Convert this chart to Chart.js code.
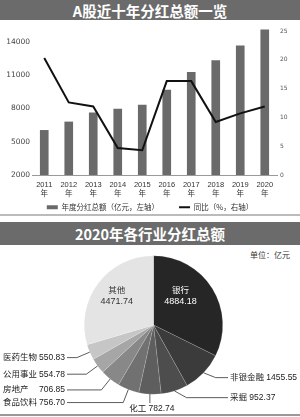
<!DOCTYPE html>
<html>
<head>
<meta charset="utf-8">
<script src="https://cdn.jsdelivr.net/npm/chart.js@4.4.1/dist/chart.umd.min.js"></script>
<style>
  body { margin: 0; width: 300px; height: 417px; position: relative; background: #fff; overflow: hidden;
         font-family: "Noto Sans CJK SC", sans-serif; }
  .hd { position: absolute; left: 0; width: 300px; background: #6b6b6b; color: #fff; font-weight: bold;
        text-align: center; font-size: 14.5px; }
  #h1 { top: 0; height: 20px; line-height: 22px; }
  #h2 { top: 222px; height: 23px; line-height: 23px; }
  .rule { position: absolute; left: 0; width: 300px; }
  #unit { position: absolute; top: 249px; left: 250px; font-size: 8px; line-height: 12px; color: #333; }
  canvas { position: absolute; left: 0; }
  #c1 { top: 21px; }
  #c2 { top: 245px; }
</style>
</head>
<body>
<div class="hd" id="h1">A股近十年分红总额一览</div>
<div class="rule" style="top:214px;height:1.5px;background:#bbb"></div>
<div class="hd" id="h2">2020年各行业分红总额</div>
<div id="unit">单位：亿元</div>
<div class="rule" style="top:414px;height:2px;background:#999"></div>
<canvas id="c1" width="300" height="200"></canvas>
<canvas id="c2" width="300" height="172"></canvas>
<script>
// 数据
const years = ['2011', '2012', '2013', '2014', '2015', '2016', '2017', '2018', '2019', '2020'];
const dividendTotal = [6030, 6790, 7620, 7960, 8320, 9670, 11270, 12320, 13650, 15100];
const yoyGrowth = [20.3, 12.6, 11.9, 4.7, 4.3, 16.3, 16.3, 9.2, 10.7, 11.9];
const leftTicks = [2000, 5000, 8000, 11000, 14000];
const rightTicks = [0, 5, 10, 15, 20, 25];

const industries = ['银行', '非银金融', '采掘', '化工', '食品饮料', '房地产', '公用事业', '医药生物', '其他'];
const industryDividends = [4884.18, 1455.55, 952.37, 782.74, 756.70, 706.85, 554.78, 550.83, 4471.74];
const sliceColors = ['#262626', '#3b3b3b', '#4d4d4d', '#5e5e5e', '#717171', '#888888', '#a6a6a6', '#c6c6c6', '#e4e4e4'];

const NUM_FONT = '"Liberation Sans", "Noto Sans CJK SC", sans-serif';
const CJK_FONT = '"Noto Sans CJK SC", sans-serif';

// x轴标签：年份 + "年" 两行
const yearLabels = {
  id: 'yearLabels',
  afterDraw(chart) {
    const ctx = chart.ctx;
    const xs = chart.scales.x;
    ctx.save();
    ctx.fillStyle = '#333';
    ctx.textAlign = 'center';
    ctx.textBaseline = 'middle';
    years.forEach((y, i) => {
      const px = xs.getPixelForTick(i);
      ctx.font = '7.5px ' + NUM_FONT;
      ctx.fillText(y, px, xs.top + 9.5);
      ctx.font = '7.5px ' + CJK_FONT;
      ctx.fillText('年', px, xs.top + 18.5);
    });
    ctx.restore();
  }
};

// === 图1：柱状 + 折线 ===
new Chart(document.getElementById('c1'), {
  type: 'bar',
  data: {
    labels: years,
    datasets: [
      {
        type: 'bar',
        label: '年度分红总额（亿元，左轴）',
        data: dividendTotal,
        backgroundColor: '#6a6a6a',
        borderWidth: 0,
        barThickness: 8,
        yAxisID: 'y',
        order: 1,
        pointStyle: 'rect',
        // 2020年柱略高于轴顶，只放开上边界
        clip: { left: 0, right: 0, bottom: 0, top: false }
      },
      {
        type: 'line',
        label: '同比（%，右轴）',
        data: yoyGrowth,
        borderColor: '#111',
        backgroundColor: '#111',
        borderWidth: 2,
        pointRadius: 0,
        tension: 0,
        yAxisID: 'y1',
        order: 0,
        pointStyle: 'line'
      }
    ]
  },
  options: {
    responsive: false,
    animation: false,
    devicePixelRatio: 1,
    layout: { padding: { top: 10, left: 0, right: 0, bottom: 0 } },
    plugins: {
      tooltip: { enabled: false },
      legend: {
        position: 'bottom',
        labels: {
          usePointStyle: true,
          pointStyleWidth: 11,
          boxHeight: 4,
          padding: 20,
          color: '#333',
          font: { size: 7.5, family: CJK_FONT },
          sort: (a, b) => a.datasetIndex - b.datasetIndex
        }
      }
    },
    scales: {
      x: {
        grid: { display: false, drawTicks: false },
        border: { display: true, color: '#999', width: 1 },
        ticks: { display: false },
        afterFit: s => { s.height = 8.5; }
      },
      y: {
        position: 'left',
        min: 2000,
        max: 15000,
        grid: { display: false, drawTicks: false },
        border: { display: false },
        ticks: { color: '#444', padding: 2, font: { size: 7.5, family: '"DejaVu Sans", sans-serif' },
                 callback: v => String(v) },
        afterBuildTicks: s => { s.ticks = leftTicks.map(v => ({ value: v })); },
        afterFit: s => { s.width = 32; }
      },
      y1: {
        position: 'right',
        min: 0,
        max: 25,
        grid: { display: false, drawTicks: false },
        border: { display: false },
        ticks: { color: '#555', padding: 3, font: { size: 6, family: '"DejaVu Sans", sans-serif' },
                 callback: v => String(v) },
        afterBuildTicks: s => { s.ticks = rightTicks.map(v => ({ value: v })); },
        afterFit: s => { s.width = 23; }
      }
    }
  },
  plugins: [yearLabels]
});

// === 图2：饼图标签（引线） ===
const pieLabels = {
  id: 'pieLabels',
  afterDraw(chart) {
    const ctx = chart.ctx;
    const meta = chart.getDatasetMeta(0);
    const insideOffset = { '银行': [0.39, -0.42], '其他': [-0.53, -0.42] };
    ctx.save();
    meta.data.forEach((arc, i) => {
      const name = industries[i];
      const val = industryDividends[i].toFixed(2);
      const { x, y, startAngle, endAngle, outerRadius: r } = arc.getProps(['x', 'y', 'startAngle', 'endAngle', 'outerRadius'], true);
      const mid = (startAngle + endAngle) / 2;
      ctx.textBaseline = 'middle';

      if (insideOffset[name]) {
        const [fx, fy] = insideOffset[name];
        const lx = x + fx * r, ly = y + fy * r;
        ctx.fillStyle = name === '银行' ? '#fff' : '#333';
        ctx.textAlign = 'center';
        ctx.font = '8.5px ' + CJK_FONT;
        ctx.fillText(name, lx, ly - 6);
        ctx.font = '9px ' + NUM_FONT;
        ctx.fillText(val, lx, ly + 5.5);
        return;
      }

      const ax = x + Math.cos(mid) * r, ay = y + Math.sin(mid) * r;
      ctx.strokeStyle = '#333';
      ctx.lineWidth = 0.8;
      ctx.fillStyle = '#222';
      ctx.font = '8.5px ' + NUM_FONT;

      if (Math.abs(Math.cos(mid)) < 0.15) {
        // 底部：竖线
        ctx.beginPath();
        ctx.moveTo(ax, ay);
        ctx.lineTo(ax, ay + 9);
        ctx.stroke();
        ctx.textAlign = 'center';
        ctx.fillText(name + ' ' + val, ax + 2, ay + 15);
        return;
      }

      ctx.beginPath();
      ctx.moveTo(ax, ay);
      if (Math.cos(mid) < 0) {
        const ex = x + Math.cos(mid) * (r + 14), ey = y + Math.sin(mid) * (r + 14);
        ctx.lineTo(ex, ey);
        ctx.lineTo(67, ey);
        ctx.stroke();
        ctx.textAlign = 'left';
        ctx.fillText(name, 3, ey);
        ctx.textAlign = 'right';
        ctx.fillText(val, 65, ey);
      } else {
        const ex = ax + 12, ey = ay + Math.sin(mid) * 7;
        ctx.lineTo(ex, ey);
        ctx.lineTo(228, ey);
        ctx.stroke();
        ctx.textAlign = 'left';
        ctx.fillText(name + ' ' + val, 230, ey);
      }
    });
    ctx.restore();
  }
};

new Chart(document.getElementById('c2'), {
  type: 'pie',
  data: {
    labels: industries,
    datasets: [{
      data: industryDividends,
      backgroundColor: sliceColors,
      borderWidth: 0.5,
      borderColor: 'rgba(255,255,255,0.3)'
    }]
  },
  options: {
    responsive: false,
    animation: false,
    devicePixelRatio: 1,
    layout: { padding: { left: 84, right: 77, top: 10.5, bottom: 22.5 } },
    plugins: { legend: { display: false }, tooltip: { enabled: false } }
  },
  plugins: [pieLabels]
});
</script>
</body>
</html>
